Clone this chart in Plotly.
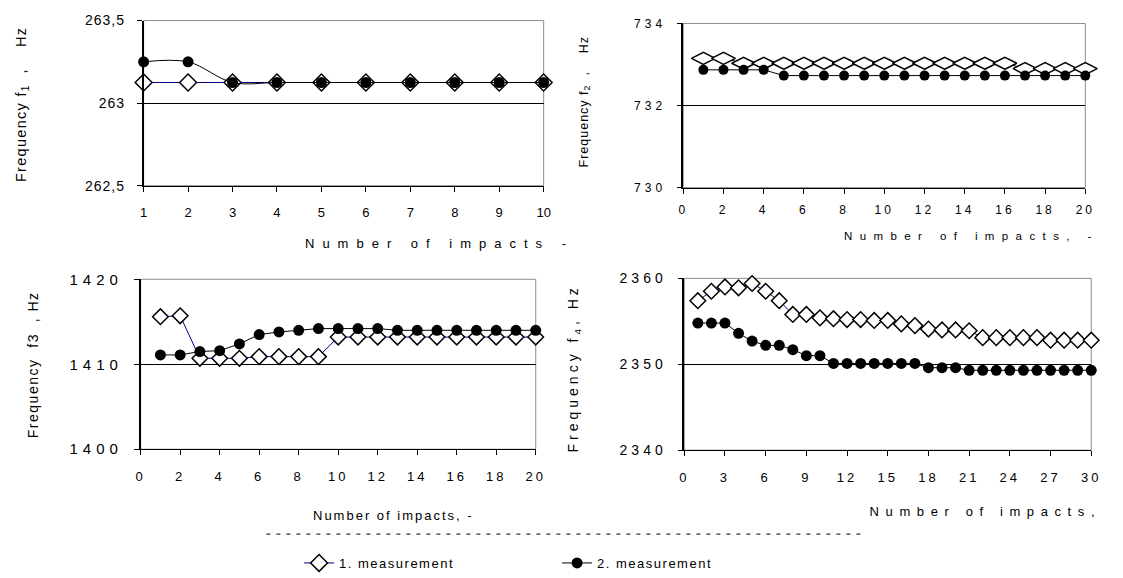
import plotly.graph_objects as go

# ---------------- data ----------------
impacts_f1 = [1, 2, 3, 4, 5, 6, 7, 8, 9, 10]
f1_meas1 = [263.125, 263.125, 263.125, 263.125, 263.125, 263.125, 263.125, 263.125, 263.125, 263.125]
f1_meas2 = [263.25, 263.25, 263.125, 263.125, 263.125, 263.125, 263.125, 263.125, 263.125, 263.125]

impacts_f2 = [1, 2, 3, 4, 5, 6, 7, 8, 9, 10, 11, 12, 13, 14, 15, 16, 17, 18, 19, 20]
f2_meas1 = [733.15, 733.15, 733.03, 733.03, 733.03, 733.03, 733.03, 733.03, 733.03, 733.03,
            733.03, 733.03, 733.03, 733.03, 733.03, 733.03, 732.9, 732.9, 732.9, 732.9]
f2_meas2 = [732.87, 732.87, 732.87, 732.87, 732.73, 732.73, 732.73, 732.73, 732.73, 732.73,
            732.73, 732.73, 732.73, 732.73, 732.73, 732.73, 732.73, 732.73, 732.73, 732.73]

impacts_f3 = [1, 2, 3, 4, 5, 6, 7, 8, 9, 10, 11, 12, 13, 14, 15, 16, 17, 18, 19, 20]
f3_meas1 = [1415.6, 1415.7, 1410.7, 1410.7, 1410.7, 1410.9, 1410.9, 1410.9, 1410.9, 1413.2,
            1413.2, 1413.2, 1413.2, 1413.2, 1413.2, 1413.2, 1413.2, 1413.2, 1413.2, 1413.2]
f3_meas2 = [1411.1, 1411.1, 1411.5, 1411.6, 1412.4, 1413.5, 1413.8, 1414.0, 1414.2, 1414.2,
            1414.2, 1414.2, 1414.0, 1414.0, 1414.0, 1414.0, 1414.0, 1414.0, 1414.0, 1414.0]

impacts_f4 = [1, 2, 3, 4, 5, 6, 7, 8, 9, 10, 11, 12, 13, 14, 15, 16, 17, 18, 19, 20,
              21, 22, 23, 24, 25, 26, 27, 28, 29, 30]
f4_meas1 = [2357.4, 2358.5, 2359.0, 2358.9, 2359.4, 2358.5, 2357.4, 2355.8, 2355.8, 2355.4,
            2355.3, 2355.2, 2355.2, 2355.1, 2355.1, 2354.7, 2354.5, 2354.1, 2354.0, 2354.0,
            2353.9, 2353.1, 2353.1, 2353.1, 2353.1, 2353.1, 2352.8, 2352.8, 2352.8, 2352.8]
f4_meas2 = [2354.8, 2354.8, 2354.8, 2353.6, 2352.7, 2352.2, 2352.2, 2351.7, 2351.0, 2351.0,
            2350.1, 2350.1, 2350.1, 2350.1, 2350.1, 2350.1, 2350.1, 2349.6, 2349.6, 2349.6,
            2349.3, 2349.3, 2349.3, 2349.3, 2349.3, 2349.3, 2349.3, 2349.3, 2349.3, 2349.3]

series_names = ["1. measurement", "2. measurement"]
x_titles = ["Number of impacts -", "Number of impacts, -", "Number of impacts, -", "Number of impacts,"]
NB = "\u00a0"
y_titles = ["Frequency f<sub>1</sub>" + NB * 2 + "," + NB * 4 + "Hz",
            "Frequency f<sub>2</sub>" + NB * 2 + "," + NB * 4 + "Hz",
            "Frequency" + NB * 2 + "f3" + NB * 2 + "," + NB + "Hz",
            "Frequency f<sub>4</sub>, Hz"]

# ---------------- layout helpers ----------------
W, H = 1123, 578
FONT = "Liberation Sans, Arial, sans-serif"


def px_x(v):
    return v / W


def px_y(v):
    return 1 - v / H


panels = [
    dict(x="x", y="y", xd=(141, 545), yd=(12, 183), xr=[1, 10], xdt=1, xt0=1, yr=[262.5, 263.5], ydt=0.5,
         xfs=13, yfs=14, xstand=10, ystand=9),
    dict(x="x2", y="y2", xd=(686, 1092), yd=(15, 185), xr=[0, 20], xdt=2, xt0=0, yr=[730, 734], ydt=2,
         xfs=12, yfs=12, xstand=6, ystand=8),
    dict(x="x3", y="y3", xd=(138, 537), yd=(280, 456), xr=[0, 20], xdt=2, xt0=0, yr=[1400, 1420], ydt=10,
         xfs=13, yfs=15, xstand=10, ystand=8),
    dict(x="x4", y="y4", xd=(687, 1098), yd=(279, 457), xr=[0, 30], xdt=3, xt0=0, yr=[2340, 2360], ydt=10,
         xfs=13, yfs=14, xstand=10, ystand=8),
]

data_sets = [
    (impacts_f1, f1_meas1, f1_meas2, "spline", 13, 11, "diamond"),
    (impacts_f2, f2_meas1, f2_meas2, "linear", 17, 10, "diamond-wide"),
    (impacts_f3, f3_meas1, f3_meas2, "linear", 12, 11, "diamond"),
    (impacts_f4, f4_meas1, f4_meas2, "linear", 12, 11, "diamond"),
]

fig = go.Figure()

for i, (p, ds) in enumerate(zip(panels, data_sets)):
    xs, m1, m2, shape2, dsize, csize, dsym = ds
    fig.add_trace(go.Scatter(
        x=xs, y=m1, mode="lines+markers", name=series_names[0],
        xaxis=p["x"], yaxis=p["y"], cliponaxis=False,
        line=dict(color="#000080", width=1),
        marker=dict(symbol=dsym, size=dsize, color="white", line=dict(color="black", width=1.5)),
        showlegend=(i == 0), legendrank=1,
    ))
    fig.add_trace(go.Scatter(
        x=xs, y=m2, mode="lines+markers", name=series_names[1],
        xaxis=p["x"], yaxis=p["y"], cliponaxis=False,
        line=dict(color="black", width=1, shape=shape2),
        marker=dict(symbol="circle", size=csize, color="black", line=dict(color="black", width=0)),
        showlegend=(i == 0), legendrank=2,
    ))

layout = dict(
    width=W, height=H,
    margin=dict(l=0, r=0, t=0, b=0),
    paper_bgcolor="white", plot_bgcolor="white",
    font=dict(family=FONT, color="black", size=13),
    separators=", ",
    showlegend=True,
    legend=dict(orientation="h", x=px_x(298), y=px_y(574), xanchor="left", yanchor="middle",
                font=dict(size=13, family=FONT, color="black"),
                entrywidth=213, entrywidthmode="pixels", bgcolor="rgba(0,0,0,0)",
                itemsizing="trace", traceorder="normal"),
)

for p in panels:
    xkey = "xaxis" if p["x"] == "x" else "xaxis" + p["x"][1:]
    ykey = "yaxis" if p["y"] == "y" else "yaxis" + p["y"][1:]
    layout[xkey] = dict(
        domain=[px_x(p["xd"][0]), px_x(p["xd"][1])], anchor=p["y"],
        range=p["xr"], dtick=p["xdt"], tick0=p["xt0"],
        showgrid=False, zeroline=False, showline=True, linecolor="black", linewidth=1,
        ticks="outside", ticklen=5, tickcolor="black", tickwidth=1,
        tickfont=dict(size=p["xfs"], family=FONT, color="black"), ticklabelstandoff=p["xstand"],
    )
    mid = (p["yr"][0] + p["yr"][1]) / 2
    layout[ykey] = dict(
        domain=[px_y(p["yd"][1]), px_y(p["yd"][0])], anchor=p["x"],
        range=p["yr"], dtick=p["ydt"], tick0=p["yr"][0],
        showgrid=False,
        minor=dict(tickmode="array", tickvals=[mid], showgrid=True, gridcolor="black", gridwidth=1, ticks=""),
        zeroline=False, showline=True, linecolor="black", linewidth=1.5,
        ticks="outside", ticklen=5, tickcolor="black", tickwidth=1,
        tickfont=dict(size=p["yfs"], family=FONT, color="black"), ticklabelstandoff=p["ystand"],
    )

fig.update_layout(**layout)

# grey plot-area borders (top/right)
for p in panels:
    fig.add_shape(type="rect", xref=p["x"] + " domain", yref=p["y"] + " domain",
                  x0=0, x1=1, y0=0, y1=1, line=dict(color="#8c8c8c", width=1), layer="below")

# artifact dashed rule under lower-left title
fig.add_shape(type="line", xref="paper", yref="paper", x0=px_x(265), x1=px_x(868),
              y0=px_y(544), y1=px_y(544), line=dict(color="#333333", width=1.2, dash="4px,6px"))

# axis titles as annotations
xt_pos = [(440, 243, 13), (977, 235, 11.5), (393, 525, 13), (991, 520, 13)]
for t, (cx, cy, fs) in zip(x_titles, xt_pos):
    fig.add_annotation(text=t, xref="paper", yref="paper", x=px_x(cx), y=px_y(cy),
                       xanchor="center", yanchor="middle", showarrow=False,
                       font=dict(size=fs, family=FONT, color="black"))

yt_pos = [(18, 99, 14.5), (586, 96, 12.5), (30, 369, 14), (576, 372, 14)]
for t, (cx, cy, fs) in zip(y_titles, yt_pos):
    fig.add_annotation(text=t, xref="paper", yref="paper", x=px_x(cx), y=px_y(cy),
                       xanchor="center", yanchor="middle", showarrow=False, textangle=-90,
                       font=dict(size=fs, family=FONT, color="black"))

post = """
try {
var gd = document.getElementById('{plot_id}');
document.body.style.margin = '0';
function ls(sel, v){ gd.querySelectorAll(sel).forEach(function(t){ t.style.letterSpacing = v; }); }
ls('.ytick text', '1px'); ls('.y2tick text', '4px'); ls('.y3tick text', '5px'); ls('.y4tick text', '4px');
ls('.x2tick text', '3px'); ls('.x3tick text', '3px'); ls('.x4tick text', '3px');
[8, 7.4, 2, 6.6, 1.3, 1, 1.5, 4].forEach(function(v, i){ ls('.annotation[data-index="' + i + '"] text', v + 'px'); });
ls('.legendtext', '1.5px');
} catch (e) { console.log(e); }
"""

fig.write_html("out.html", post_script=post, config={"displayModeBar": False})
